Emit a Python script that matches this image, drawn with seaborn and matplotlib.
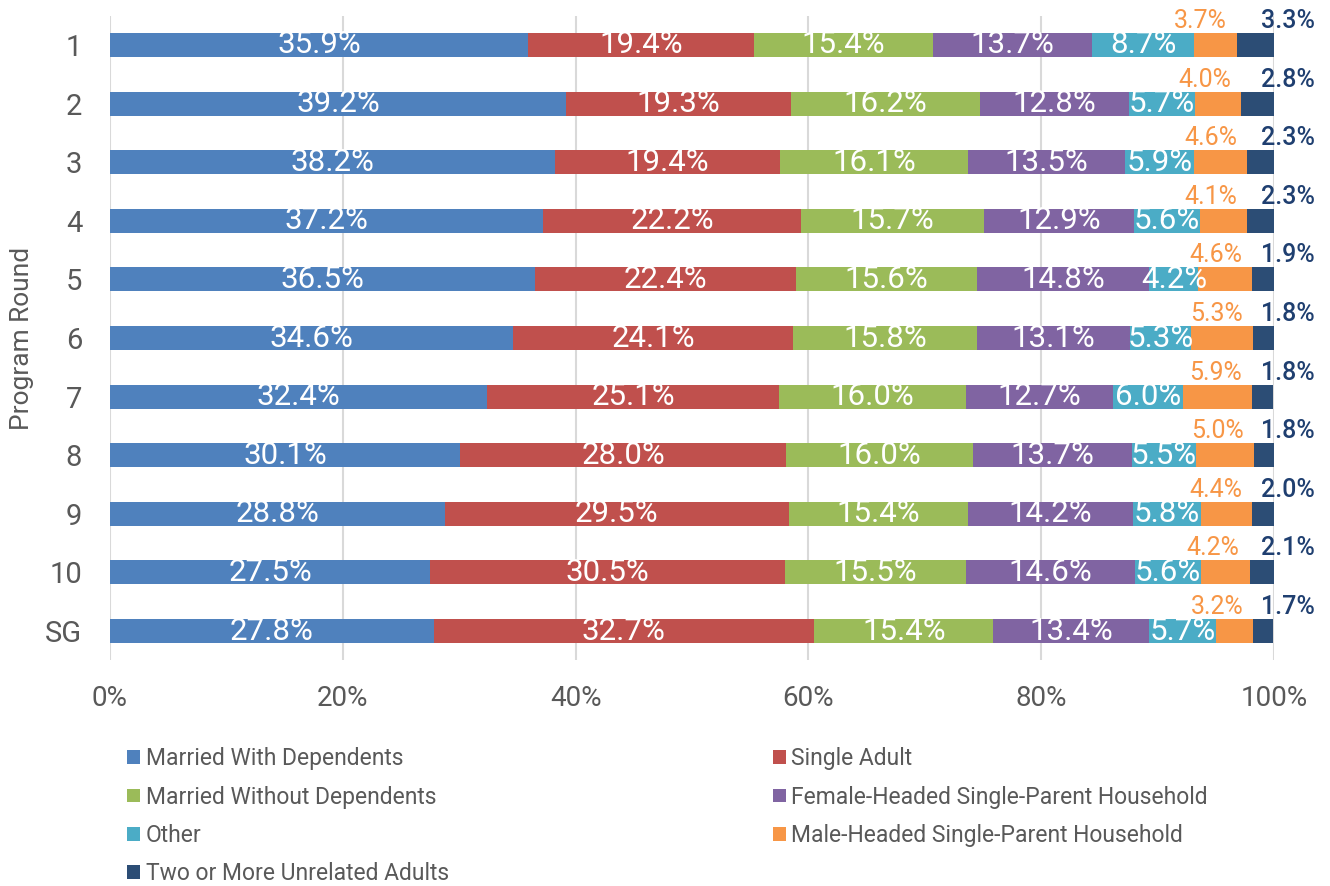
import matplotlib
matplotlib.use("Agg")
import matplotlib.pyplot as plt
import seaborn as sns
import numpy as np
import pandas as pd
from matplotlib.patches import Patch

rounds = ["1", "2", "3", "4", "5", "6", "7", "8", "9", "10", "SG"]
series_names = [
    "Married With Dependents",
    "Single Adult",
    "Married Without Dependents",
    "Female-Headed Single-Parent Household",
    "Other",
    "Male-Headed Single-Parent Household",
    "Two or More Unrelated Adults",
]
married_with = [35.9, 39.2, 38.2, 37.2, 36.5, 34.6, 32.4, 30.1, 28.8, 27.5, 27.8]
single_adult = [19.4, 19.3, 19.4, 22.2, 22.4, 24.1, 25.1, 28.0, 29.5, 30.5, 32.7]
married_without = [15.4, 16.2, 16.1, 15.7, 15.6, 15.8, 16.0, 16.0, 15.4, 15.5, 15.4]
female_headed = [13.7, 12.8, 13.5, 12.9, 14.8, 13.1, 12.7, 13.7, 14.2, 14.6, 13.4]
other = [8.7, 5.7, 5.9, 5.6, 4.2, 5.3, 6.0, 5.5, 5.8, 5.6, 5.7]
male_headed = [3.7, 4.0, 4.6, 4.1, 4.6, 5.3, 5.9, 5.0, 4.4, 4.2, 3.2]
two_or_more = [3.3, 2.8, 2.3, 2.3, 1.9, 1.8, 1.8, 1.8, 2.0, 2.1, 1.7]
x_ticks = [0, 20, 40, 60, 80, 100]

colors = ["#4F81BD", "#C0504D", "#9BBB59", "#8064A2", "#4BACC6", "#F79646", "#2C4D75"]
series = [married_with, single_adult, married_without, female_headed, other, male_headed, two_or_more]

sns.set_theme(style="white")
plt.rcParams["font.family"] = ["Roboto", "DejaVu Sans"]

fig = plt.figure(figsize=(13.3, 8.86), dpi=100)
ax = fig.add_axes([0.0827, 0.2547, 0.9579 - 0.0827, 0.9823 - 0.2547])

vals = np.array(series)  # shape (7, 11)
cum = np.cumsum(vals, axis=0)
starts = cum - vals

# draw from the total back to the first series so each layer overlays
for i in range(len(series) - 1, -1, -1):
    df = pd.DataFrame({"round": rounds, "value": cum[i]})
    sns.barplot(data=df, x="value", y="round", order=rounds, color=colors[i],
                width=0.41, saturation=1, ax=ax, orient="h", linewidth=0,
                edgecolor="none")

ax.set_xlim(0, 100)
ax.set_ylim(len(rounds) - 0.5, -0.5)
ax.set_xticks(x_ticks)
ax.set_xticklabels([f"{t}%" for t in x_ticks])
ax.grid(axis="x", color="#D9D9D9", linewidth=1.5)
ax.set_axisbelow(True)
for s in ax.spines.values():
    s.set_visible(False)
ax.tick_params(axis="both", length=0, labelcolor="#595959")
ax.tick_params(axis="x", pad=18, labelsize=20)
ax.tick_params(axis="y", pad=20, labelsize=21)
ax.set_xlabel("")
ax.set_ylabel("Program Round", fontsize=19, color="#595959", labelpad=8)

# in-bar labels for first five series
for i in range(5):
    for j, r in enumerate(rounds):
        ax.text(starts[i, j] + vals[i, j] / 2, j, f"{vals[i, j]:.1f}%",
                ha="center", va="center", color="white", fontsize=22.5)

# outside labels
for j, r in enumerate(rounds):
    ax.text(cum[5, j] - 0.85, j - 0.41, f"{vals[5, j]:.1f}%", ha="right",
            va="center", color="#F79646", fontsize=18)
    ax.text(98.9, j - 0.41, f"{vals[6, j]:.1f}%", ha="left", va="center",
            color="#1F3F70", fontsize=18, fontweight="medium", clip_on=False)

handles = [Patch(facecolor=c, edgecolor="none") for c in colors]
order = [0, 2, 4, 6, 1, 3, 5]
leg = fig.legend([handles[k] for k in order], [series_names[k] for k in order],
                 ncol=2, loc="upper left", bbox_to_anchor=(0.0923, 0.1615),
                 frameon=False, fontsize=16.5, handlelength=0.55, handleheight=0.55,
                 handletextpad=0.25, labelspacing=0.66, columnspacing=14.15,
                 borderaxespad=0, borderpad=0.2)
for t in leg.get_texts():
    t.set_color("#595959")

fig.savefig("out.png", dpi=100)
